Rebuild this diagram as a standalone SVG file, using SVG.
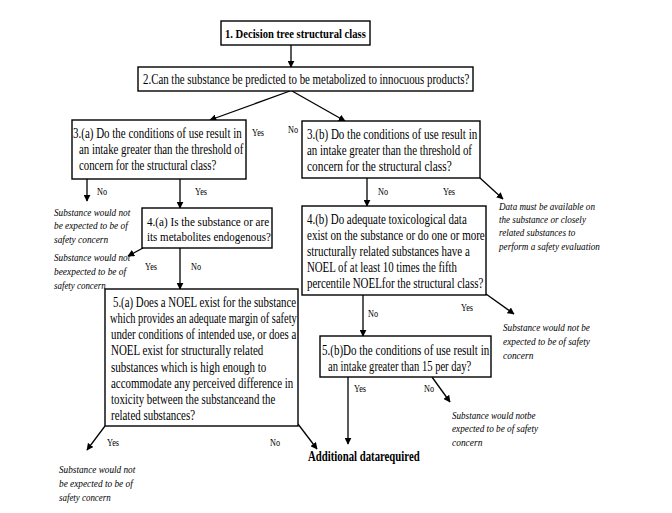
<svg xmlns="http://www.w3.org/2000/svg" width="672" height="513" viewBox="0 0 672 513">
<defs>
<marker id="ah" viewBox="0 0 10 10" refX="9" refY="5" markerWidth="7" markerHeight="7" markerUnits="userSpaceOnUse" orient="auto"><path d="M0,0 L10,5 L0,10 z" fill="#000"/></marker>
</defs>
<style>
.box{fill:#fff;stroke:#000;stroke-width:1.4}
text{font-family:"Liberation Serif","Times New Roman","DejaVu Serif",serif;fill:#000}
.t{font-size:14px}
.s{font-size:13px}
.b{font-size:13px;font-weight:bold}
.bb{font-size:14px;font-weight:bold}
.l{font-size:11px}
.i{font-size:11px;font-style:italic}
.c{stroke:#000;stroke-width:1.3;fill:none;marker-end:url(#ah)}
</style>
<rect width="672" height="513" fill="#fff"/>
<g id="connectors">
<line class="c" x1="291" y1="45" x2="291" y2="67"/>
<line class="c" x1="290" y1="91" x2="210" y2="120"/>
<line class="c" x1="292" y1="91" x2="345" y2="121"/>
<line class="c" x1="87" y1="179" x2="87" y2="201"/>
<line class="c" x1="180" y1="179" x2="180" y2="208"/>
<line class="c" x1="143" y1="248" x2="128" y2="256"/>
<line class="c" x1="180" y1="248" x2="180" y2="289"/>
<line class="c" x1="105" y1="426" x2="87" y2="450"/>
<line class="c" x1="298" y1="424" x2="317" y2="449"/>
<line class="c" x1="367" y1="178" x2="367" y2="206"/>
<line class="c" x1="480" y1="178" x2="503" y2="199"/>
<line class="c" x1="363" y1="295" x2="363" y2="336"/>
<line class="c" x1="486" y1="294" x2="514" y2="314"/>
<line class="c" x1="348" y1="377" x2="348" y2="444"/>
<line class="c" x1="432" y1="377" x2="450" y2="402"/>
</g>
<g id="n1">
<rect class="box" x="221" y="21" width="149" height="24"/>
<text class="b" transform="translate(225,38) scale(0.8,1)" textLength="176" lengthAdjust="spacingAndGlyphs">1. Decision tree structural class</text>
</g>
<g id="n2">
<rect class="box" x="138" y="67" width="335" height="24"/>
<text class="t" transform="translate(143,84) scale(0.75,1)" textLength="435" lengthAdjust="spacingAndGlyphs">2.Can the substance be predicted to be metabolized to innocuous products?</text>
</g>
<g id="n3a">
<rect class="box" x="72" y="120" width="174" height="59"/>
<text class="t" transform="translate(73,138) scale(0.75,1)" textLength="225" lengthAdjust="spacingAndGlyphs">3.(a) Do the conditions of use result in</text>
<text class="t" transform="translate(79,154) scale(0.75,1)" textLength="219" lengthAdjust="spacingAndGlyphs">an intake greater than the threshold of</text>
<text class="t" transform="translate(79,170) scale(0.75,1)" textLength="183" lengthAdjust="spacingAndGlyphs">concern for the structural class?</text>
</g>
<text class="l" transform="translate(252,136) scale(0.75,1)">Yes</text>
<text class="l" transform="translate(288,133) scale(0.75,1)">No</text>
<g id="n3b">
<rect class="box" x="302" y="121" width="178" height="57"/>
<text class="t" transform="translate(307,139) scale(0.75,1)" textLength="227" lengthAdjust="spacingAndGlyphs">3.(b) Do the conditions of use result in</text>
<text class="t" transform="translate(307,155) scale(0.75,1)" textLength="220" lengthAdjust="spacingAndGlyphs">an intake greater than the threshold of</text>
<text class="t" transform="translate(307,171) scale(0.75,1)" textLength="193" lengthAdjust="spacingAndGlyphs">concern for the structural class?</text>
</g>
<text class="l" transform="translate(97,195) scale(0.75,1)">No</text>
<text class="l" transform="translate(195,195) scale(0.75,1)">Yes</text>
<text class="l" transform="translate(378,195) scale(0.75,1)">No</text>
<text class="l" transform="translate(443,195) scale(0.75,1)">Yes</text>
<g id="o1">
<text class="i" transform="translate(54,216) scale(0.82,1)" textLength="93" lengthAdjust="spacingAndGlyphs">Substance would not</text>
<text class="i" transform="translate(54,229) scale(0.82,1)" textLength="90" lengthAdjust="spacingAndGlyphs">be expected to be of</text>
<text class="i" transform="translate(54,243) scale(0.82,1)" textLength="66" lengthAdjust="spacingAndGlyphs">safety concern</text>
</g>
<g id="n4a">
<rect class="box" x="142" y="208" width="130" height="40"/>
<text class="s" transform="translate(147,226) scale(0.82,1)" textLength="149" lengthAdjust="spacingAndGlyphs">4.(a) Is the substance or are</text>
<text class="s" transform="translate(147,241) scale(0.82,1)" textLength="151" lengthAdjust="spacingAndGlyphs">its metabolites endogenous?</text>
</g>
<g id="o2">
<text class="i" transform="translate(54,261) scale(0.82,1)" textLength="93" lengthAdjust="spacingAndGlyphs">Substance would not</text>
<text class="i" transform="translate(54,275) scale(0.82,1)" textLength="88" lengthAdjust="spacingAndGlyphs">beexpected to be of</text>
<text class="i" transform="translate(54,289) scale(0.82,1)" textLength="63" lengthAdjust="spacingAndGlyphs">safety concern</text>
</g>
<text class="l" transform="translate(145,270) scale(0.75,1)">Yes</text>
<text class="l" transform="translate(191,270) scale(0.75,1)">No</text>
<g id="o3">
<text class="i" transform="translate(499,210) scale(0.82,1)" textLength="117" lengthAdjust="spacingAndGlyphs">Data must be available on</text>
<text class="i" transform="translate(499,223) scale(0.82,1)" textLength="106" lengthAdjust="spacingAndGlyphs">the substance or closely</text>
<text class="i" transform="translate(499,236) scale(0.82,1)" textLength="93" lengthAdjust="spacingAndGlyphs">related substances to</text>
<text class="i" transform="translate(499,250) scale(0.82,1)" textLength="123" lengthAdjust="spacingAndGlyphs">perform a safety evaluation</text>
</g>
<g id="n4b">
<rect class="box" x="302" y="206" width="184" height="89"/>
<text class="t" transform="translate(307,224) scale(0.75,1)" textLength="213" lengthAdjust="spacingAndGlyphs">4.(b) Do adequate toxicological data</text>
<text class="t" transform="translate(307,240) scale(0.75,1)" textLength="237" lengthAdjust="spacingAndGlyphs">exist on the substance or do one or more</text>
<text class="t" transform="translate(307,256) scale(0.75,1)" textLength="217" lengthAdjust="spacingAndGlyphs">structurally related substances have a</text>
<text class="t" transform="translate(307,272) scale(0.75,1)" textLength="200" lengthAdjust="spacingAndGlyphs">NOEL of at least 10 times the fifth</text>
<text class="t" transform="translate(307,288) scale(0.75,1)" textLength="235" lengthAdjust="spacingAndGlyphs">percentile NOELfor the structural class?</text>
</g>
<g id="n5a">
<rect class="box" x="105" y="289" width="193" height="137"/>
<text class="t" transform="translate(113,307) scale(0.75,1)" textLength="244" lengthAdjust="spacingAndGlyphs">5.(a) Does a NOEL exist for the substance</text>
<text class="t" transform="translate(110,323) scale(0.75,1)" textLength="249" lengthAdjust="spacingAndGlyphs">which provides an adequate margin of safety</text>
<text class="t" transform="translate(111,339) scale(0.75,1)" textLength="247" lengthAdjust="spacingAndGlyphs">under conditions of intended use, or does a</text>
<text class="t" transform="translate(111,355) scale(0.75,1)" textLength="203" lengthAdjust="spacingAndGlyphs">NOEL exist for structurally related</text>
<text class="t" transform="translate(111,372) scale(0.75,1)" textLength="207" lengthAdjust="spacingAndGlyphs">substances which is high enough to</text>
<text class="t" transform="translate(111,388) scale(0.75,1)" textLength="243" lengthAdjust="spacingAndGlyphs">accommodate any perceived difference in</text>
<text class="t" transform="translate(111,404) scale(0.75,1)" textLength="219" lengthAdjust="spacingAndGlyphs">toxicity between the substanceand the</text>
<text class="t" transform="translate(111,420) scale(0.75,1)" textLength="112" lengthAdjust="spacingAndGlyphs">related substances?</text>
</g>
<text class="l" transform="translate(461,311) scale(0.75,1)">Yes</text>
<text class="l" transform="translate(368,317) scale(0.75,1)">No</text>
<g id="o4">
<text class="i" transform="translate(503,331) scale(0.82,1)" textLength="106" lengthAdjust="spacingAndGlyphs">Substance would not be</text>
<text class="i" transform="translate(503,345) scale(0.82,1)" textLength="106" lengthAdjust="spacingAndGlyphs">expected to be of safety</text>
<text class="i" transform="translate(503,359) scale(0.82,1)" textLength="37" lengthAdjust="spacingAndGlyphs">concern</text>
</g>
<g id="n5b">
<rect class="box" x="320" y="336" width="171" height="41"/>
<text class="t" transform="translate(322,355) scale(0.75,1)" textLength="223" lengthAdjust="spacingAndGlyphs">5.(b)Do the conditions of use result in</text>
<text class="t" transform="translate(328,371) scale(0.75,1)" textLength="191" lengthAdjust="spacingAndGlyphs">an intake greater than 15 per day?</text>
</g>
<text class="l" transform="translate(354,392) scale(0.75,1)">Yes</text>
<text class="l" transform="translate(424,392) scale(0.75,1)">No</text>
<g id="o5">
<text class="i" transform="translate(452,419) scale(0.82,1)" textLength="102" lengthAdjust="spacingAndGlyphs">Substance would notbe</text>
<text class="i" transform="translate(452,432) scale(0.82,1)" textLength="105" lengthAdjust="spacingAndGlyphs">expected to be of safety</text>
<text class="i" transform="translate(452,446) scale(0.82,1)" textLength="37" lengthAdjust="spacingAndGlyphs">concern</text>
</g>
<text class="l" transform="translate(107,446) scale(0.75,1)">Yes</text>
<text class="l" transform="translate(270,446) scale(0.75,1)">No</text>
<g id="o6">
<text class="i" transform="translate(59,473) scale(0.82,1)" textLength="93" lengthAdjust="spacingAndGlyphs">Substance would not</text>
<text class="i" transform="translate(59,487) scale(0.82,1)" textLength="90" lengthAdjust="spacingAndGlyphs">be expected to be of</text>
<text class="i" transform="translate(59,501) scale(0.82,1)" textLength="63" lengthAdjust="spacingAndGlyphs">safety concern</text>
</g>
<g id="n6">
<text class="bb" transform="translate(308,461) scale(0.77,1)" textLength="145" lengthAdjust="spacingAndGlyphs">Additional datarequired</text>
</g>
</svg>
